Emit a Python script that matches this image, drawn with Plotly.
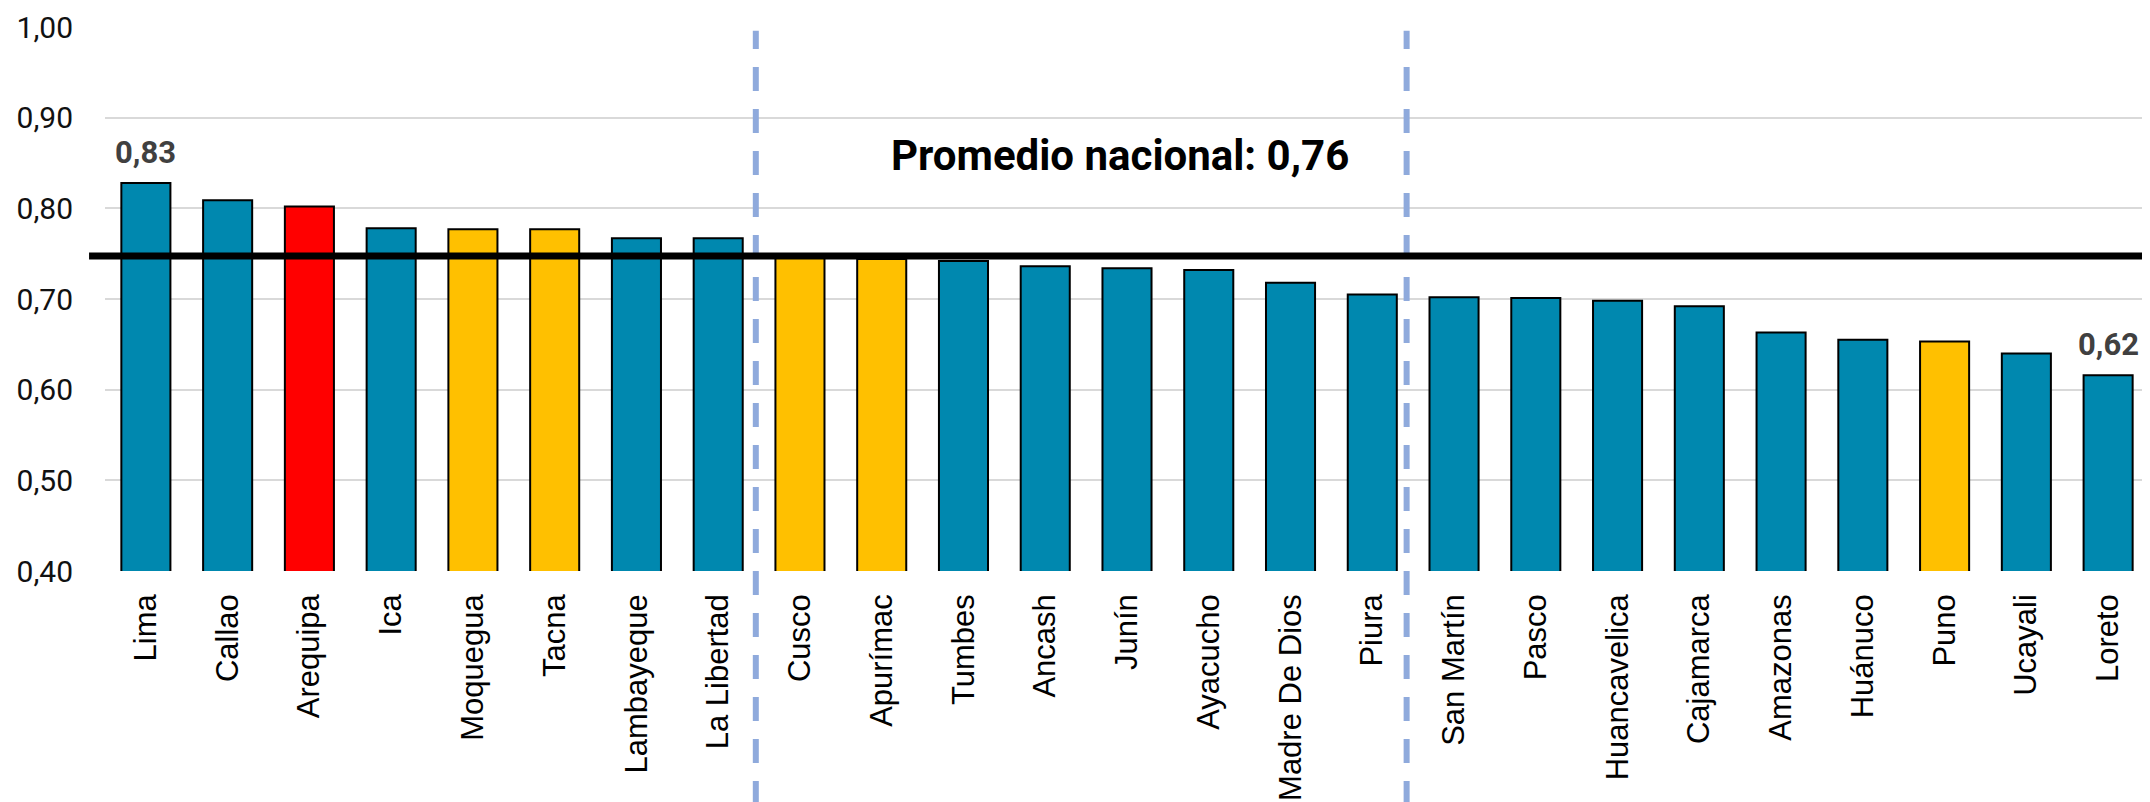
import plotly.graph_objects as go

regiones = ["Lima", "Callao", "Arequipa", "Ica", "Moquegua", "Tacna", "Lambayeque",
            "La Libertad", "Cusco", "Apurímac", "Tumbes", "Ancash", "Junín", "Ayacucho",
            "Madre De Dios", "Piura", "San Martín", "Pasco", "Huancavelica", "Cajamarca",
            "Amazonas", "Huánuco", "Puno", "Ucayali", "Loreto"]
valores = [0.828, 0.809, 0.802, 0.778, 0.777, 0.777, 0.767, 0.767, 0.746, 0.744,
           0.742, 0.736, 0.734, 0.732, 0.718, 0.705, 0.702, 0.701, 0.698, 0.692,
           0.663, 0.655, 0.653, 0.640, 0.616]
grupo = ["azul", "azul", "rojo", "azul", "amarillo", "amarillo", "azul", "azul",
         "amarillo", "amarillo", "azul", "azul", "azul", "azul", "azul", "azul",
         "azul", "azul", "azul", "azul", "azul", "azul", "amarillo", "azul", "azul"]
paleta = {"azul": "#0088AF", "rojo": "#FF0000", "amarillo": "#FFC000"}
promedio_linea = 0.7475
promedio_texto = "Promedio nacional: 0,76"
etiquetas_idx = [0, 24]
separadores = [7.46, 15.42]
y_ticks = [0.4, 0.5, 0.6, 0.7, 0.8, 0.9, 1.0]

fig = go.Figure()
fig.add_trace(go.Bar(
    x=regiones, y=valores, width=0.6,
    marker=dict(color=[paleta[g] for g in grupo], line=dict(color="#000000", width=2)),
    hoverinfo="skip",
))

for i in etiquetas_idx:
    fig.add_annotation(
        x=regiones[i], y=valores[i], xref="x", yref="y",
        text=f"{valores[i]:.2f}".replace(".", ","),
        showarrow=False, yanchor="bottom", yshift=10,
        font=dict(family="Roboto", size=31, color="#404040", weight="bold"),
    )

fig.add_annotation(
    x=0.4966, y=0.764, xref="paper", yref="paper", text=promedio_texto,
    showarrow=False, xanchor="center", yanchor="middle",
    font=dict(family="Roboto", size=42, color="#000000", weight="bold"),
)

for s in separadores:
    fig.add_shape(type="line", xref="x", yref="paper", x0=s, x1=s, y0=-0.43, y1=0.993,
                  line=dict(color="#8FAADC", width=6, dash="24px,18px"), layer="above")

fig.add_shape(type="line", xref="paper", yref="y", x0=-0.0078, x1=0.998,
              y0=promedio_linea, y1=promedio_linea,
              line=dict(color="#000000", width=7), layer="above")

# the page body has an 8px default margin, so the figure is sized to end at the window edge
fig.update_layout(
    width=2142, height=794,
    margin=dict(l=97, r=1, t=16, b=230),
    plot_bgcolor="#FFFFFF", paper_bgcolor="#FFFFFF",
    separators=",.",
    showlegend=False,
    bargap=0.4,
)
fig.update_xaxes(
    type="category", tickangle=-90, showgrid=False, zeroline=False, showline=False,
    ticks="", ticklabelstandoff=16, ticklabeloverflow="allow",
    tickfont=dict(family="Liberation Sans", size=31, color="#000000"),
)
fig.update_yaxes(
    range=[0.4, 1.0], tickvals=y_ticks, tickformat=".2f",
    showgrid=True, gridcolor="#D9D9D9", gridwidth=2, zeroline=False, showline=False,
    ticks="", ticklabelstandoff=31, ticklabeloverflow="allow",
    tickfont=dict(family="Roboto", size=30, color="#111111"),
)

fig.write_html("out.html")
